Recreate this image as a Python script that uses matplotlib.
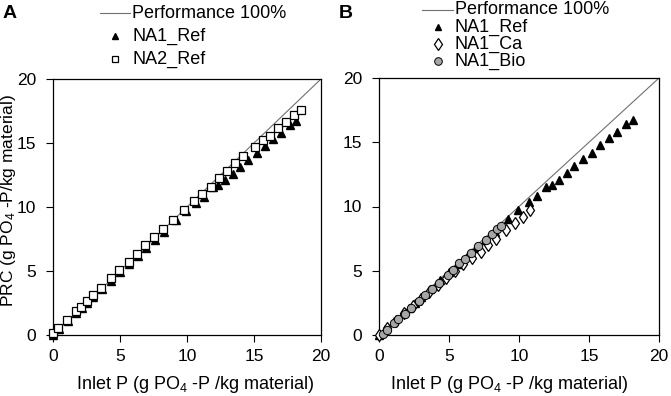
import matplotlib
matplotlib.use("Agg")
import matplotlib.pyplot as plt
from matplotlib.lines import Line2D

plt.rcParams['font.family'] = ['Liberation Sans', 'DejaVu Sans']
plt.rcParams['mathtext.fontset'] = 'custom'
plt.rcParams['mathtext.rm'] = 'Liberation Sans'
plt.rcParams['mathtext.it'] = 'Liberation Sans'

# ---- data ----
perf_x = [0, 20]
perf_y = [0, 20]

na1_ref_x = [0.0, 0.45, 1.1, 1.7, 2.15, 2.55, 3.0, 3.65, 4.35, 5.0, 5.7, 6.35, 6.95, 7.6, 8.25,
             9.2, 9.95, 10.7, 11.25, 11.95, 12.35, 12.85, 13.4, 13.95, 14.55, 15.2, 15.8, 16.4,
             17.0, 17.65, 18.15]
na1_ref_y = [0.0, 0.45, 1.1, 1.7, 2.1, 2.5, 2.95, 3.6, 4.25, 4.9, 5.55, 6.2, 6.8, 7.4, 8.05,
             9.0, 9.7, 10.35, 10.8, 11.55, 11.7, 12.1, 12.6, 13.15, 13.7, 14.2, 14.75, 15.3,
             15.8, 16.4, 16.75]

na2_ref_x = [0.0, 0.4, 1.05, 1.7, 2.1, 2.5, 2.95, 3.6, 4.3, 4.95, 5.65, 6.3, 6.9, 7.55, 8.2,
             8.95, 9.75, 10.55, 11.15, 11.8, 12.4, 13.0, 13.55, 14.15, 15.05, 15.65, 16.2,
             16.8, 17.4, 17.95, 18.5]
na2_ref_y = [0.16, 0.57, 1.2, 1.85, 2.2, 2.65, 3.1, 3.7, 4.45, 5.1, 5.7, 6.35, 7.0, 7.65, 8.25,
             9.0, 9.8, 10.5, 11.05, 11.6, 12.3, 12.85, 13.4, 13.95, 14.7, 15.25, 15.55, 16.2,
             16.65, 17.2, 17.6]

na1_ca_x = [0.0, 0.6, 1.2, 1.8, 2.4, 3.0, 3.6, 4.2, 4.8, 5.4, 6.0, 6.65, 7.25, 7.8, 8.35,
            9.05, 9.7, 10.3, 10.75]
na1_ca_y = [0.0, 0.55, 1.1, 1.7, 2.25, 2.8, 3.35, 3.9, 4.45, 5.0, 5.5, 6.0, 6.45, 7.0, 7.5,
            8.2, 8.75, 9.2, 9.7]

na1_bio_x = [0.25, 0.57, 1.04, 1.37, 1.84, 2.3, 2.84, 3.26, 3.78, 4.3, 4.92, 5.25, 5.72, 6.15,
             6.57, 7.09, 7.66, 8.04, 8.42, 8.7]
na1_bio_y = [0.05, 0.4, 0.93, 1.24, 1.65, 2.14, 2.63, 3.14, 3.56, 4.07, 4.69, 5.05, 5.57, 5.93,
             6.39, 6.96, 7.42, 7.89, 8.25, 8.5]

ticks = [0, 5, 10, 15, 20]
xlabel = 'Inlet P (g PO$_4$ -P /kg material)'
ylabel = 'PRC (g PO$_4$ -P/kg material)'
legend_A = ['Performance 100%', 'NA1_Ref', 'NA2_Ref']
legend_B = ['Performance 100%', 'NA1_Ref', 'NA1_Ca', 'NA1_Bio']

# ---- figure ----
W, H = 671, 396
fig = plt.figure(figsize=(W / 100, H / 100), dpi=100)

def px_axes(l, r, t, b):
    return fig.add_axes([l / W, 1 - b / H, (r - l) / W, (b - t) / H])

A_box = (53, 321, 79, 335)
B_box = (379, 659, 78, 335)
axA = px_axes(*A_box)
axB = px_axes(*B_box)

line_col = '#707070'
fs_tick = 12.5
fs_lab = 13
fs_leg = 13

for ax, box, xc in ((axA, A_box, 195), (axB, B_box, 509)):
    l, r, t, b = box
    ax.set_xlim(0, 20)
    ax.set_ylim(0, 20)
    ax.set_xticks(ticks)
    ax.set_yticks(ticks)
    ax.tick_params(direction='out', length=5, width=0.8, labelsize=fs_tick)
    ax.tick_params(axis='x', pad=5)
    ax.tick_params(axis='y', pad=7)
    for s in ax.spines.values():
        s.set_linewidth(0.9)
    ax.plot(perf_x, perf_y, color=line_col, lw=0.8, zorder=1)
    ax.set_xlabel(xlabel, fontsize=fs_lab)
    ax.xaxis.set_label_coords((xc - l) / (r - l), (b - 374) / (b - t))

axA.set_ylabel(ylabel, fontsize=12.5)
axA.yaxis.set_label_coords((18 - 53) / 268, (335 - 200) / 256)

tri = dict(ls='none', marker='^', ms=5.5, mfc='black', mec='black')
sq = dict(ls='none', marker='s', ms=5.5, mfc='white', mec='black', mew=0.9)
dia = dict(ls='none', marker='d', ms=6.5, mfc='white', mec='black', mew=0.9)
circ = dict(ls='none', marker='o', ms=6, mfc='#a6a6a6', mec='black', mew=0.7)

# Panel A
axA.plot(na1_ref_x, na1_ref_y, zorder=2, clip_on=False, **tri)
axA.plot(na2_ref_x, na2_ref_y, zorder=3, clip_on=False, **sq)

# Panel B
axB.plot(na1_ref_x, na1_ref_y, zorder=2, clip_on=False, **tri)
axB.plot(na1_ca_x, na1_ca_y, zorder=3, clip_on=False, **dia)
axB.plot(na1_bio_x, na1_bio_y, zorder=4, clip_on=False, **circ)

# Manual legends (pixel layout)
def fx(x):
    return x / W

def fy(y):
    return 1 - y / H

def legend(entries, labels, x0, x1, xt, rows):
    for (kind, style), lab, y in zip(entries, labels, rows):
        if kind == 'line':
            fig.add_artist(Line2D([fx(x0), fx(x1)], [fy(y), fy(y)], transform=fig.transFigure,
                                  color=line_col, lw=0.8))
        else:
            st = dict(style)
            st['ms'] = st['ms'] - 0.5
            fig.add_artist(Line2D([fx((x0 + x1) / 2)], [fy(y)], transform=fig.transFigure, **st))
        fig.text(fx(xt), fy(y), lab, fontsize=fs_leg, va='center', ha='left')

legend([('line', None), ('m', tri), ('m', sq)], legend_A, 100, 130, 132, [13, 36, 59])
legend([('line', None), ('m', tri), ('m', dia), ('m', circ)], legend_B, 422, 453, 455,
       [10, 27, 44, 61])

fig.text(fx(3), fy(14), 'A', fontsize=14, fontweight='bold', va='center', ha='left')
fig.text(fx(339), fy(14), 'B', fontsize=14, fontweight='bold', va='center', ha='left')

fig.savefig('out.png', dpi=100)
